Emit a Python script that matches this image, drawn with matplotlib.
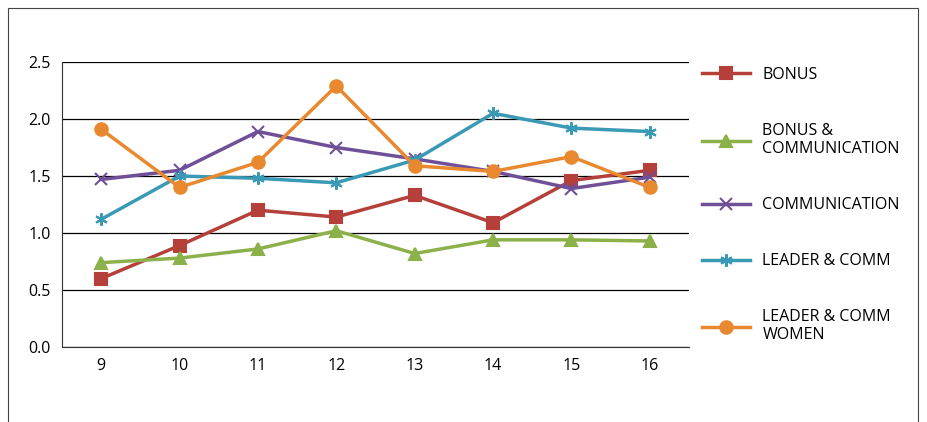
import matplotlib.pyplot as plt
from matplotlib.patches import Rectangle

plt.rcParams['font.family'] = ['Open Sans', 'DejaVu Sans']

weeks = [9, 10, 11, 12, 13, 14, 15, 16]
bonus = [0.60, 0.89, 1.20, 1.14, 1.33, 1.09, 1.46, 1.55]
bonus_comm = [0.74, 0.78, 0.86, 1.02, 0.82, 0.94, 0.94, 0.93]
communication = [1.47, 1.55, 1.89, 1.75, 1.65, 1.54, 1.39, 1.49]
leader_comm = [1.12, 1.50, 1.48, 1.44, 1.64, 2.05, 1.92, 1.89]
leader_comm_women = [1.91, 1.40, 1.62, 2.29, 1.59, 1.54, 1.67, 1.40]

series = [
    ("BONUS", bonus, "#b5403a", "s"),
    ("BONUS &\nCOMMUNICATION", bonus_comm, "#8cb04a", "^"),
    ("COMMUNICATION", communication, "#6f4f97", "x"),
    ("LEADER & COMM", leader_comm, "#3a9ab6", (6, 2, 0)),
    ("LEADER & COMM\nWOMEN", leader_comm_women, "#e9892f", "o"),
]

fig = plt.figure(figsize=(9.27, 4.22), dpi=100)
fig.patches.append(Rectangle((8 / 927, -0.1), 910 / 927, 1.1 - 8 / 422,
                             transform=fig.transFigure, fill=False,
                             edgecolor="#444444", linewidth=0.8))
ax = fig.add_axes([62 / 927, 1 - 347 / 422, 627 / 927, 285 / 422])

for name, vals, col, mk in series:
    ax.plot(weeks, vals, color=col, linewidth=2.5, marker=mk, markersize=9,
            markeredgewidth=1.5, label=name)

ax.set_xlim(8.5, 16.5)
ax.set_ylim(0, 2.5)
ax.set_yticks([0, 0.5, 1.0, 1.5, 2.0, 2.5])
ax.set_yticklabels(["0.0", "0.5", "1.0", "1.5", "2.0", "2.5"])
ax.set_xticks(weeks)
ax.yaxis.grid(True, color="black", linewidth=0.9)
ax.set_axisbelow(True)
ax.tick_params(length=0, labelsize=11.5, pad=8)
for s in ["top", "right"]:
    ax.spines[s].set_visible(False)
ax.spines["left"].set_color("#333333")
ax.spines["bottom"].set_color("#333333")

ax.legend(loc="upper left", bbox_to_anchor=(1.01, 1.005), frameon=False,
          fontsize=11.5, labelspacing=2.5, handlelength=3, borderaxespad=0)

fig.savefig("out.png", dpi=100)
